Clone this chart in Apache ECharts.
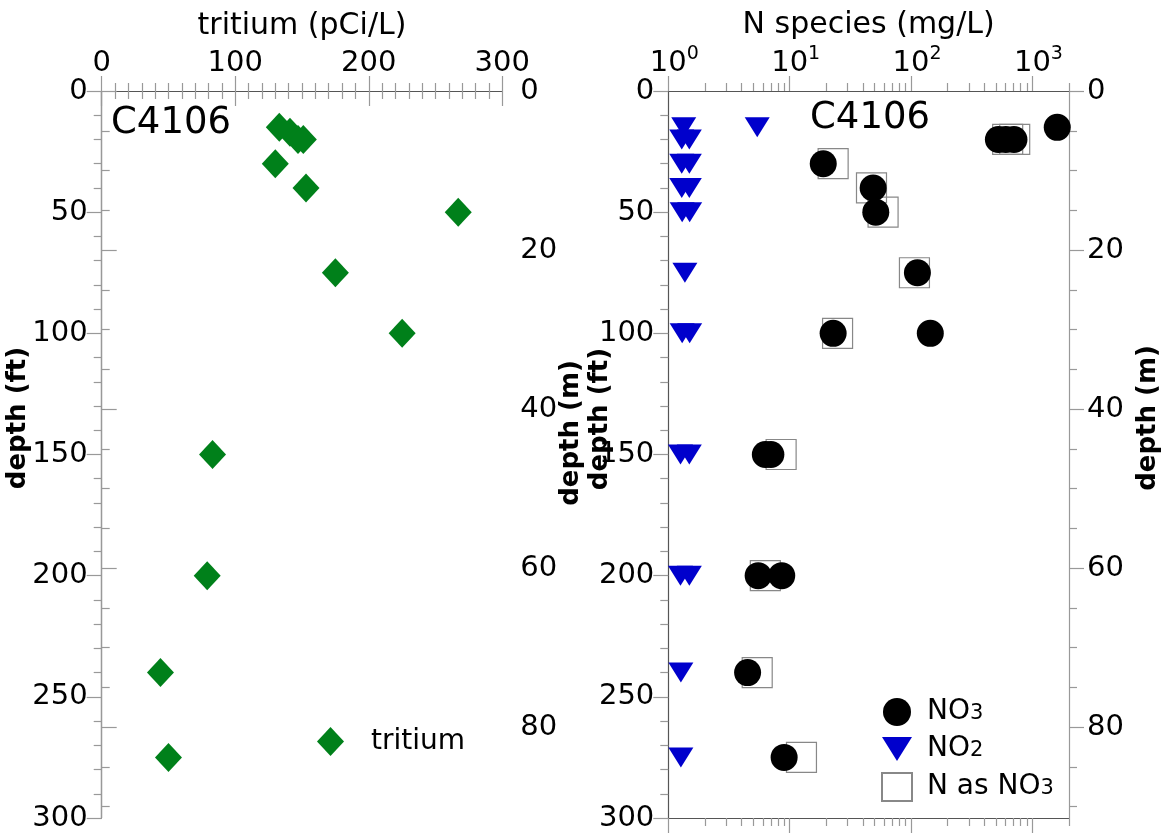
<!DOCTYPE html>
<html>
<head>
<meta charset="utf-8">
<script src="https://cdn.jsdelivr.net/npm/echarts@6/dist/echarts.min.js"></script>
<style>
  html, body { margin: 0; padding: 0; background: #fff; }
  #main { width: 1161px; height: 834px; }
</style>
</head>
<body>
<div id="main"></div>
<script>
// tritium profile (left panel)
var tritium      = [133, 141, 147, 151, 130, 153, 267, 175, 225, 83, 79, 44, 50];
var tritiumDepth = [15, 17, 20, 20, 30, 40, 50, 75, 100, 150, 200, 240, 275];

// N species (right panel), mg/L
var no3      = [1600, 524, 603, 704, 18.9, 48.7, 51.2, 112.8, 22.8, 144, 6.3, 7.0, 5.5, 8.6, 4.5, 9.0];
var no3Depth = [15, 20, 20, 20, 30, 40, 50, 75, 100, 100, 150, 150, 200, 200, 240, 275];

var no2      = [1.34, 5.4, 1.29, 1.49, 1.29, 1.49, 1.29, 1.49, 1.3, 1.5, 1.37, 1.3, 1.5, 1.26, 1.49, 1.26, 1.49, 1.27, 1.27];
var no2Depth = [15, 15, 20, 20, 30, 30, 40, 40, 50, 50, 75, 100, 100, 150, 150, 200, 200, 240, 275];

var nAsNo3      = [625, 714, 22.8, 47.2, 58.8, 106.6, 24.8, 8.5, 6.3, 5.4, 12.5];
var nAsNo3Depth = [20, 20, 30, 40, 50, 75, 100, 150, 200, 240, 275];

// tick labels
var logMajor = [1, 10, 100, 1000];
var logMinor = [2, 3, 4, 5, 6, 7, 8, 9, 20, 30, 40, 50, 60, 70, 80, 90, 200, 300, 400, 500, 600, 700, 800, 900, 2000];
var mLabels  = [0, 20, 40, 60, 80];

var FT_TO_M = 0.3048;
var FONT = 'DejaVu Sans';

function pairs(xs, ys) {
    var out = [];
    for (var i = 0; i < xs.length; i++) {
        out.push([xs[i], ys[i]]);
    }
    return out;
}

var lineStyleDark = { color: '#555', width: 1.2 };
var lineStyleLight = { color: '#999', width: 1.2 };
var labelStyle = { color: '#000', fontFamily: FONT, fontSize: 29 };
var nameStyle = { color: '#000', fontFamily: FONT, fontSize: 30 };

function depthFtAxis(gridIndex) {
    return {
        type: 'value', gridIndex: gridIndex, position: 'left', inverse: true,
        min: 0, max: 300, interval: 50,
        axisLine: { show: true, lineStyle: lineStyleDark },
        axisTick: { show: true, length: 15, lineStyle: lineStyleLight },
        minorTick: { show: true, splitNumber: 5, length: 8, lineStyle: lineStyleLight },
        axisLabel: Object.assign({ margin: 14 }, labelStyle),
        splitLine: { show: false }
    };
}

function depthMAxis(gridIndex) {
    return {
        type: 'value', gridIndex: gridIndex, position: 'right', inverse: true,
        min: 0, max: 300 * FT_TO_M, interval: 20,
        axisLine: { show: true, lineStyle: lineStyleLight },
        axisTick: { show: true, length: 15, lineStyle: lineStyleLight, customValues: mLabels },
        minorTick: { show: true, splitNumber: 4, length: 8, lineStyle: lineStyleLight },
        axisLabel: Object.assign({ margin: 18, customValues: mLabels }, labelStyle),
        splitLine: { show: false }
    };
}

function logAxis(position, ticks, len, withLine) {
    return {
        type: 'log', logBase: 10, gridIndex: 1, position: position,
        min: 1, max: 2000,
        axisLine: { show: withLine, lineStyle: lineStyleDark },
        axisTick: { show: true, length: len, lineStyle: lineStyleLight, customValues: ticks },
        minorTick: { show: false },
        splitLine: { show: false },
        axisLabel: { show: false }
    };
}

var topLog = logAxis('top', logMajor, 15, true);
topLog.name = 'N species (mg/L)';
topLog.nameLocation = 'middle';
topLog.nameGap = 50;
topLog.nameTextStyle = nameStyle;
topLog.axisLabel = {
    show: true, margin: 9, customValues: logMajor,
    formatter: function (v) {
        return '{b|10}{s|' + Math.round(Math.log(v) / Math.LN10) + '}';
    },
    rich: {
        b: { color: '#000', fontFamily: FONT, fontSize: 29, padding: [0, 0, 0, 12] },
        s: { color: '#000', fontFamily: FONT, fontSize: 19, padding: [0, 0, 18, 0] }
    }
};

var myChart = echarts.init(document.getElementById('main'));

var option = {
    backgroundColor: '#fff',
    animation: false,
    grid: [
        { left: 101.7, top: 91, width: 400.6, height: 727 },
        { left: 668.3, top: 91, width: 400.7, height: 727 }
    ],
    xAxis: [
        {
            type: 'value', gridIndex: 0, position: 'top',
            min: 0, max: 300, interval: 100,
            name: 'tritium (pCi/L)', nameLocation: 'middle', nameGap: 50,
            nameTextStyle: nameStyle,
            axisLine: { show: true, lineStyle: lineStyleDark },
            axisTick: { show: true, length: 15, lineStyle: lineStyleLight },
            minorTick: { show: true, splitNumber: 10, length: 8, lineStyle: lineStyleLight },
            axisLabel: Object.assign({ margin: 13 }, labelStyle),
            splitLine: { show: false }
        },
        {
            type: 'value', gridIndex: 0, position: 'bottom',
            min: 0, max: 300, interval: 100,
            axisLine: { show: true, lineStyle: lineStyleDark },
            axisTick: { show: true, length: 15, lineStyle: lineStyleLight },
            minorTick: { show: true, splitNumber: 10, length: 8, lineStyle: lineStyleLight },
            axisLabel: { show: false },
            splitLine: { show: false }
        },
        topLog,
        logAxis('top', logMinor, 8, false),
        logAxis('bottom', logMajor, 15, true),
        logAxis('bottom', logMinor, 8, false)
    ],
    yAxis: [
        depthFtAxis(0),
        depthMAxis(0),
        depthFtAxis(1),
        depthMAxis(1)
    ],
    legend: [
        {
            orient: 'vertical', left: 312, top: 722,
            itemWidth: 27, itemHeight: 29,
            data: ['tritium'],
            textStyle: { color: '#000', fontFamily: FONT, fontSize: 28, padding: [0, 0, 0, 22] }
        },
        {
            orient: 'vertical', left: 876, top: 693,
            itemWidth: 30, itemHeight: 28, itemGap: 9,
            data: ['NO3', 'NO2', 'N as NO3'],
            formatter: function (name) {
                return name.replace(/NO(\d)/, 'NO{s|$1}');
            },
            textStyle: {
                color: '#000', fontFamily: FONT, fontSize: 28, padding: [0, 0, 0, 10],
                rich: { s: { color: '#000', fontFamily: FONT, fontSize: 21, padding: [4, 0, 0, 0] } }
            }
        }
    ],
    graphic: [
        { type: 'text', x: 111, y: 123, style: { text: 'C4106', font: '37px "DejaVu Sans"', fill: '#000', verticalAlign: 'middle' } },
        { type: 'text', x: 810, y: 118, style: { text: 'C4106', font: '37px "DejaVu Sans"', fill: '#000', verticalAlign: 'middle' } },
        { type: 'text', x: 18, y: 418, rotation: Math.PI / 2, style: { text: 'depth (ft)', font: 'bold 26px "DejaVu Sans"', fill: '#000', align: 'center', verticalAlign: 'middle' } },
        { type: 'text', x: 571, y: 433, rotation: Math.PI / 2, style: { text: 'depth (m)', font: 'bold 26px "DejaVu Sans"', fill: '#000', align: 'center', verticalAlign: 'middle' } },
        { type: 'text', x: 600, y: 419, rotation: Math.PI / 2, style: { text: 'depth (ft)', font: 'bold 26px "DejaVu Sans"', fill: '#000', align: 'center', verticalAlign: 'middle' } },
        { type: 'text', x: 1148, y: 418, rotation: Math.PI / 2, style: { text: 'depth (m)', font: 'bold 26px "DejaVu Sans"', fill: '#000', align: 'center', verticalAlign: 'middle' } }
    ],
    series: [
        {
            name: 'tritium', type: 'scatter', xAxisIndex: 0, yAxisIndex: 0,
            symbol: 'diamond', symbolSize: [27, 29], clip: false,
            itemStyle: { color: '#00801a', opacity: 1 },
            data: pairs(tritium, tritiumDepth)
        },
        {
            name: 'N as NO3', type: 'scatter', xAxisIndex: 2, yAxisIndex: 2,
            symbol: 'rect', symbolSize: 30, clip: false, z: 1,
            itemStyle: { color: 'rgba(255,255,255,0)', borderColor: '#888', borderWidth: 1.2, opacity: 1 },
            data: pairs(nAsNo3, nAsNo3Depth)
        },
        {
            name: 'NO3', type: 'scatter', xAxisIndex: 2, yAxisIndex: 2,
            symbol: 'circle', symbolSize: 27, clip: false, z: 3,
            itemStyle: { color: '#000', opacity: 1 },
            data: pairs(no3, no3Depth)
        },
        {
            name: 'NO2', type: 'scatter', xAxisIndex: 2, yAxisIndex: 2,
            symbol: 'path://M0,0L2,0L1,1.6Z', symbolSize: [25, 20], clip: false, z: 3,
            itemStyle: { color: '#0000cc', opacity: 1 },
            data: pairs(no2, no2Depth)
        }
    ]
};

myChart.setOption(option);
</script>
</body>
</html>
